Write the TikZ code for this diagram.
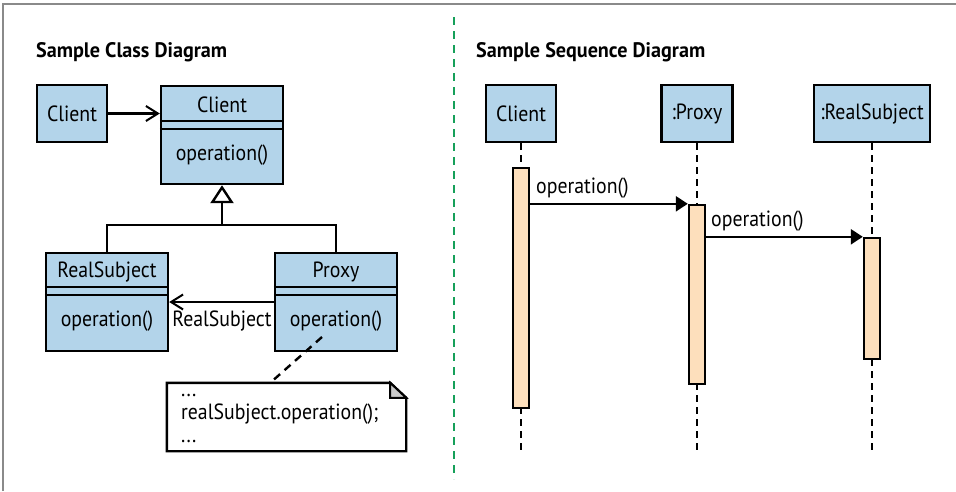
\documentclass[tikz,border=0pt]{standalone}
\usepackage{fontspec}
\setmainfont[FakeStretch=0.9]{PT Sans}
\newfontfamily\ttlfont[FakeStretch=0.96]{PT Sans}
\usetikzlibrary{arrows.meta}
\definecolor{umlblue}{HTML}{B3D4EA}
\definecolor{peach}{HTML}{FDDFBC}
\definecolor{sepgreen}{HTML}{16A05A}
\definecolor{framegray}{HTML}{8A8A8A}
\definecolor{foldgray}{HTML}{C8C8C8}
\tikzset{
  box/.style={draw, line width=2.4pt, fill=umlblue, inner sep=0pt, font=\fontsize{22}{26}\selectfont},
  lbl/.style={inner sep=0pt, font=\fontsize{22}{26}\selectfont},
  ttl/.style={inner sep=0pt, anchor=west, font=\ttlfont\fontsize{21}{25}\selectfont\bfseries},
  ln/.style={line width=2.4pt},
  divider/.style={line width=2.4pt},
  assoc/.style={line width=2.4pt, -{Straight Barb[length=12pt, width=15pt, line width=2pt]}},
  inherit/.style={line width=2.4pt, -{Triangle[open, length=18pt, width=23pt, fill=white, line width=2.4pt]}},
  msg/.style={line width=2.4pt, -{Triangle[length=12pt, width=15pt]}},
  act/.style={draw, line width=2.4pt, fill=peach, inner sep=0pt},
  life/.style={line width=2.4pt, dash pattern=on 7pt off 5pt},
}
\begin{document}
\begin{tikzpicture}[x=1pt, y=-1pt]
\useasboundingbox (0,0) rectangle (956,491);
% frame
\draw[framegray, line width=1.6pt] (3,491) -- (3,4) -- (956,4);
% separator
\draw[sepgreen, line width=2.6pt, dash pattern=on 8pt off 6pt] (454,17) -- (454,479);

% ===== Class diagram =====
\node[ttl] (t1) at (36,52) {Sample Class Diagram};

\node[box, minimum width=70pt, minimum height=57pt] (c0) at (72,113.5) {Client};
\node[box, minimum width=122pt, minimum height=98pt] (c1) at (222,135) {};
\draw[divider] (c1.west |- 0,121) -- (c1.east |- 0,121);
\draw[divider] (c1.west |- 0,129) -- (c1.east |- 0,129);
\node[lbl] (c1n) at (222,105) {Client};
\node[lbl] (c1o) at (222,155) {operation()};
\draw[assoc] (c0.east) -- (c1.west |- c0.east);

\node[box, minimum width=122pt, minimum height=98pt] (rs) at (107,302) {};
\draw[divider] (rs.west |- 0,287) -- (rs.east |- 0,287);
\draw[divider] (rs.west |- 0,295) -- (rs.east |- 0,295);
\node[lbl] (rsn) at (107,272) {RealSubject};
\node[lbl] (rso) at (107,321) {operation()};

\node[box, minimum width=122pt, minimum height=98pt] (px) at (336,302) {};
\draw[divider] (px.west |- 0,287) -- (px.east |- 0,287);
\draw[divider] (px.west |- 0,295) -- (px.east |- 0,295);
\node[lbl] (pxn) at (336,272) {Proxy};
\node[lbl] (pxo) at (336,321) {operation()};

\coordinate (j) at (222,225);
\draw[inherit] (j) -- (c1.south);
\draw[ln] (rs.north) |- (j) -| (px.north);

\draw[assoc] (px.west |- 0,302) -- (rs.east |- 0,302);
\node[lbl] (rsl) at (222,321) {RealSubject};

% note
\node[minimum width=239pt, minimum height=68pt, inner sep=0pt] (note) at (286.5,417) {};
\draw[ln, fill=white, line join=miter]
  (note.north west) -- ([xshift=-16pt]note.north east) -- ([yshift=-15pt]note.north east)
  -- (note.south east) -- (note.south west) -- cycle;
\draw[line width=2pt, fill=foldgray, line join=miter]
  ([xshift=-16pt]note.north east) -- ([xshift=-16pt,yshift=-15pt]note.north east)
  -- ([yshift=-15pt]note.north east) -- cycle;
\node[lbl, anchor=base west] (n1) at (181,396) {...};
\node[lbl, anchor=base west] (n2) at (181,419) {realSubject.operation();};
\node[lbl, anchor=base west] (n3) at (181,442) {...};
\coordinate (pd) at (322,337);
\coordinate (nd) at (270,383);
\draw[ln, dash pattern=on 8pt off 6pt] (pd) -- (nd);

% ===== Sequence diagram =====
\node[ttl] (t2) at (476,52) {Sample Sequence Diagram};

\node[box, minimum width=70pt, minimum height=57pt] (sc) at (521,113.5) {Client};
\node[box, minimum width=71pt, minimum height=57pt] (sp) at (697,113.5) {:Proxy};
\node[box, minimum width=116pt, minimum height=57pt] (sr) at (872,113.5) {:RealSubject};

\coordinate (e1) at (521,452);
\coordinate (e2) at (697,452);
\coordinate (e3) at (872,452);
\draw[life] (sc.south) -- (e1);
\draw[life] (sp.south) -- (e2);
\draw[life] (sr.south) -- (e3);

\node[act, minimum width=16pt, minimum height=240pt] (a1) at (521,288) {};
\node[act, minimum width=16pt, minimum height=179pt] (a2) at (697,294.5) {};
\node[act, minimum width=16pt, minimum height=121pt] (a3) at (872,298.5) {};

\draw[msg] (a1.east |- a2.north) -- (a2.north west);
\node[lbl, anchor=west] (m1) at (536,188) {operation()};
\draw[msg] (a2.east |- a3.north) -- (a3.north west);
\node[lbl, anchor=west] (m2) at (711,221) {operation()};
\end{tikzpicture}
\end{document}
